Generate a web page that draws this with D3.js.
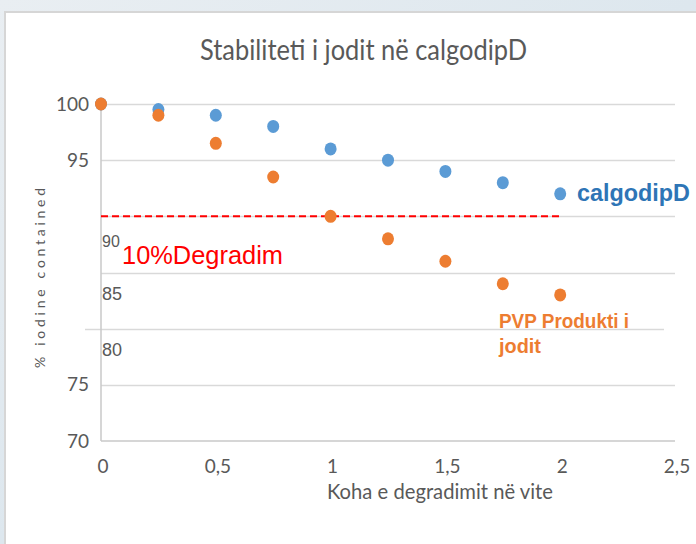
<!DOCTYPE html>
<html>
<head>
<meta charset="utf-8">
<script src="https://cdn.jsdelivr.net/npm/d3@7"></script>
<style>
  body { margin: 0; background: #e4ebf0; }
  svg { display: block; }
</style>
</head>
<body>
<svg id="chart" width="696" height="544"></svg>
<script>
// data
const years = [0, 0.25, 0.5, 0.75, 1, 1.25, 1.5, 1.75, 2];
const calgodipD = [100, 99.5, 99, 98, 96, 95, 94, 93, 92];
const pvpJodit = [100, 99, 96.5, 93.5, 90, 88, 86, 84, 83];
const xTicks = [0, 0.5, 1, 1.5, 2, 2.5];
const yGrid = [70, 75, 80, 85, 90, 95, 100];
const yAxisLabels = [70, 75, 95, 100];
const floatLabels = ["90", "85", "80"];
const degradLevel = 90;
const degradEnd = 2;

const svg = d3.select("#chart");

// background + white panel
const defs = svg.append("defs");
const grad = defs.append("linearGradient").attr("id", "bg")
  .attr("x1", 0).attr("y1", 0).attr("x2", 1).attr("y2", 1);
grad.append("stop").attr("offset", "0%").attr("stop-color", "#e9eef2");
grad.append("stop").attr("offset", "50%").attr("stop-color", "#dde7ee");
grad.append("stop").attr("offset", "100%").attr("stop-color", "#e6edf1");
svg.append("rect").attr("width", 696).attr("height", 544).attr("fill", "url(#bg)");
svg.append("rect").attr("x", 5).attr("y", 12).attr("width", 720).attr("height", 560)
  .attr("fill", "#fff").attr("stroke", "#d6d6d6").attr("stroke-width", 2);

const x = d3.scaleLinear().domain([0, 2.5]).range([101, 675]);
const y = d3.scaleLinear().domain([70, 100]).range([441, 104]);

const font = "Lato, 'Open Sans', sans-serif";
const grey = "#595959";

// gridlines (the 80 line sits a bit to the left in the original)
svg.append("g").selectAll("line")
  .data(yGrid.filter(d => d !== 70))
  .join("line")
  .attr("x1", d => d === 80 ? x(0) - 16 : x(0))
  .attr("x2", d => d === 80 ? x(2.5) - 11 : x(2.5))
  .attr("y1", d => Math.round(y(d)) + 0.5)
  .attr("y2", d => Math.round(y(d)) + 0.5)
  .attr("stroke", "#d9d9d9").attr("stroke-width", 1.5);

// axis lines
svg.append("line")
  .attr("x1", x(0)).attr("x2", x(0)).attr("y1", y(100)).attr("y2", y(70))
  .attr("stroke", "#c9c9c9").attr("stroke-width", 1.5);
svg.append("line")
  .attr("x1", x(0)).attr("x2", x(2.5)).attr("y1", y(70)).attr("y2", y(70))
  .attr("stroke", "#c9c9c9").attr("stroke-width", 1.5);

// y axis labels
const yAxis = svg.append("g")
  .attr("transform", `translate(${x(0)},0)`)
  .call(d3.axisLeft(y).tickValues(yAxisLabels).tickSize(0).tickPadding(12));
yAxis.select(".domain").remove();
yAxis.selectAll("text")
  .attr("font-family", font).attr("font-size", 19).attr("fill", grey);

// x axis labels
const xAxis = svg.append("g")
  .attr("transform", `translate(1.5,${y(70)})`)
  .call(d3.axisBottom(x).tickValues(xTicks).tickSize(0).tickPadding(19)
    .tickFormat(d => String(d).replace(".", ",")));
xAxis.select(".domain").remove();
xAxis.selectAll("text")
  .attr("font-family", font).attr("font-size", 19).attr("fill", grey);

// floating 90 / 85 / 80 labels
svg.append("g").selectAll("text")
  .data(floatLabels)
  .join("text")
  .attr("x", x(0) + 1)
  .attr("y", d => d === "90" ? y(+d) + 31 : y(+d) + 27)
  .attr("font-family", "'Liberation Sans', Arial, sans-serif")
  .attr("font-size", d => d === "90" ? 16 : 18)
  .attr("fill", grey)
  .text(d => d);

// 10% degradation line
svg.append("line")
  .attr("x1", x(0)).attr("x2", x(degradEnd))
  .attr("y1", y(degradLevel)).attr("y2", y(degradLevel))
  .attr("stroke", "#ff0000").attr("stroke-width", 2)
  .attr("stroke-dasharray", "7,4");

svg.append("text")
  .attr("x", 122).attr("y", y(degradLevel) + 48)
  .attr("font-family", "'Liberation Sans', Arial, sans-serif")
  .attr("font-size", 25).attr("fill", "#ff0000")
  .attr("textLength", 161).attr("lengthAdjust", "spacingAndGlyphs")
  .text("10%Degradim");

// series points
const series = [
  { name: "calgodipD", values: calgodipD, color: "#5b9bd5" },
  { name: "PVP", values: pvpJodit, color: "#ed7d31" }
];
series.forEach(s => {
  svg.append("g").selectAll("ellipse")
    .data(years.map((t, i) => [t, s.values[i]]))
    .join("ellipse")
    .attr("cx", d => x(d[0]))
    .attr("cy", d => y(d[1]))
    .attr("rx", 6).attr("ry", 6.5)
    .attr("fill", s.color);
});

// series labels
svg.append("text")
  .attr("x", 577).attr("y", 201)
  .attr("font-family", "'Liberation Sans', Arial, sans-serif")
  .attr("font-weight", "bold").attr("font-size", 23.5).attr("fill", "#2e75b6")
  .attr("textLength", 113).attr("lengthAdjust", "spacingAndGlyphs")
  .text("calgodipD");
const pvpLabel = svg.append("text")
  .attr("font-family", "'Liberation Sans', Arial, sans-serif")
  .attr("font-weight", "bold").attr("font-size", 21).attr("fill", "#ed7d31");
pvpLabel.append("tspan").attr("x", 499).attr("y", 328)
  .attr("textLength", 130).attr("lengthAdjust", "spacingAndGlyphs")
  .text("PVP Produkti i");
pvpLabel.append("tspan").attr("x", 499).attr("y", 353)
  .attr("textLength", 42).attr("lengthAdjust", "spacingAndGlyphs")
  .text("jodit");

// title
svg.append("text")
  .attr("x", 200).attr("y", 60)
  .attr("font-family", font)
  .attr("font-size", 28).attr("fill", grey)
  .attr("textLength", 327).attr("lengthAdjust", "spacingAndGlyphs")
  .text("Stabiliteti i jodit në calgodipD");

// axis titles
svg.append("text")
  .attr("x", 327).attr("y", 499)
  .attr("font-family", font)
  .attr("font-size", 21).attr("fill", grey)
  .attr("textLength", 226).attr("lengthAdjust", "spacingAndGlyphs")
  .text("Koha e degradimit në vite");

svg.append("text")
  .attr("transform", "translate(45,368) rotate(-90)")
  .attr("font-family", font)
  .attr("font-size", 14).attr("fill", grey)
  .attr("textLength", 180).attr("lengthAdjust", "spacing")
  .text("% iodine contained");
</script>
</body>
</html>
